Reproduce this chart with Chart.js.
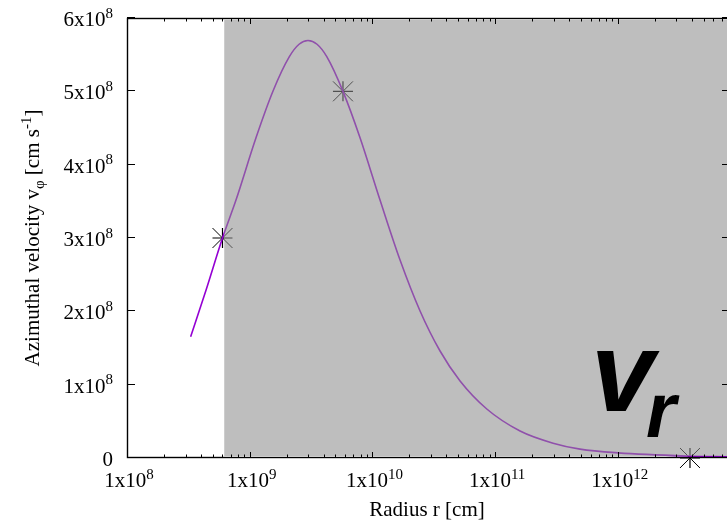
<!DOCTYPE html>
<html>
<head>
<meta charset="utf-8">
<script src="https://cdn.jsdelivr.net/npm/chart.js@4/dist/chart.umd.min.js"></script>
<style>
  html, body { margin: 0; padding: 0; background: #fff; overflow: hidden; }
  #wrap { width: 731px; height: 525px; }
</style>
</head>
<body>
<div id="wrap"><canvas id="c" width="731" height="525"></canvas></div>
<script>
// Azimuthal velocity profile v_phi(r), cm and cm/s
const radius = [3.30e8, 4.41e8, 6.0e8, 7.73e8, 1.125e9, 1.549e9, 2.104e9, 2.524e9, 2.985e9,
                3.537e9, 4.246e9, 5.754e9, 7.925e9, 1.153e10, 1.679e10, 2.444e10, 3.557e10,
                5.177e10, 8.55e10, 1.596e11, 2.965e11, 4.92e11, 1.005e12, 3.88e12, 8.2e12];
const vphi = [1.654e8, 2.291e8, 3.00e8, 3.518e8, 4.367e8, 5.005e8, 5.473e8, 5.642e8, 5.693e8,
              5.642e8, 5.473e8, 5.00e8, 4.367e8, 3.518e8, 2.700e8, 2.005e8, 1.459e8,
              1.050e8, 0.668e8, 0.368e8, 0.202e8, 0.121e8, 0.070e8, 0.026e8, 0.015e8];

// Marked radii
const markerRadius = [6.0e8, 5.754e9, 3.87e12];
const markerVphi = [3.0e8, 5.0e8, 0];

// Shaded zone: from this radius out past the right edge
const shadeStart = 6.2e8;

// Axis ranges and tick labels
const xMin = 1e8, xMax = 8.2e12;
const yMin = 0, yMax = 6e8;
const xTickValues = [1e8, 1e9, 1e10, 1e11, 1e12];
const xTickLabels = ['1x10^{8}', '1x10^{9}', '1x10^{10}', '1x10^{11}', '1x10^{12}'];
const yTickValues = [0, 1e8, 2e8, 3e8, 4e8, 5e8, 6e8];
const yTickLabels = ['0', '1x10^{8}', '2x10^{8}', '3x10^{8}', '4x10^{8}', '5x10^{8}', '6x10^{8}'];
const xTitle = 'Radius r [cm]';
const yTitle = 'Azimuthal velocity v_{φ} [cm s^{-1}]';
const zoneMain = 'v';
const zoneSub = 'r';

const SERIF = '"Liberation Serif", "Times New Roman", serif';
const FS = 21;

// Text with ^{...} superscripts and _{...} subscripts
function parseRich(s) {
  const out = [];
  const re = /([\^_])\{([^}]*)\}/g;
  let last = 0, m;
  while ((m = re.exec(s))) {
    if (m.index > last) out.push({ t: s.slice(last, m.index), k: 0 });
    out.push({ t: m[2], k: m[1] === '^' ? 1 : -1 });
    last = re.lastIndex;
  }
  if (last < s.length) out.push({ t: s.slice(last), k: 0 });
  return out;
}
function segFont(k, size) {
  return (k ? Math.round(size * 0.7) : size) + 'px ' + SERIF;
}
function drawRich(ctx, s, x, y, align, size) {
  const segs = parseRich(s);
  let w = 0;
  segs.forEach(g => { ctx.font = segFont(g.k, size); g.w = ctx.measureText(g.t).width; w += g.w; });
  let cx = align === 'center' ? x - w / 2 : align === 'right' ? x - w : x;
  ctx.textAlign = 'left';
  ctx.textBaseline = 'alphabetic';
  segs.forEach(g => {
    ctx.font = segFont(g.k, size);
    const dy = g.k === 1 ? -size * 0.4 : g.k === -1 ? size * 0.25 : 0;
    ctx.fillText(g.t, cx, y + dy);
    cx += g.w;
  });
}

const framePlugin = {
  id: 'frame',
  afterDatasetsDraw(chart) {
    const { ctx, chartArea: a, scales: { x } } = chart;
    const x0 = x.getPixelForValue(shadeStart);
    ctx.save();
    ctx.fillStyle = 'rgba(140,140,140,0.57)';
    ctx.fillRect(x0, a.top + 2, a.right - x0, a.bottom - a.top - 4);
    ctx.restore();
  },
  afterDraw(chart) {
    const { ctx, chartArea: a, scales: { x, y } } = chart;
    ctx.save();
    ctx.strokeStyle = '#000';
    ctx.lineWidth = 1.4;
    ctx.strokeRect(a.left + 0.5, a.top + 0.5, a.right - a.left - 1, a.bottom - a.top - 1);

    ctx.lineWidth = 1;
    ctx.beginPath();
    // x ticks, inward on bottom and top
    for (let d = 8; d <= 12; d++) {
      for (let m = 1; m <= 9; m++) {
        const v = m * Math.pow(10, d);
        if (v > xMax) break;
        const px = Math.round(x.getPixelForValue(v)) + 0.5;
        const len = m === 1 ? 6 : 3.5;
        ctx.moveTo(px, a.bottom); ctx.lineTo(px, a.bottom - len);
        ctx.moveTo(px, a.top); ctx.lineTo(px, a.top + len);
      }
    }
    // y ticks, inward on left and right
    yTickValues.forEach(v => {
      const py = Math.round(y.getPixelForValue(v)) - 0.5;
      ctx.moveTo(a.left, py); ctx.lineTo(a.left + 8, py);
      ctx.moveTo(a.right, py); ctx.lineTo(a.right - 8, py);
    });
    ctx.stroke();

    ctx.fillStyle = '#000';
    yTickValues.forEach((v, i) => {
      drawRich(ctx, yTickLabels[i], 113, y.getPixelForValue(v) + 8, 'right', FS);
    });
    xTickValues.forEach((v, i) => {
      drawRich(ctx, xTickLabels[i], x.getPixelForValue(v) + 2, 487, 'center', FS);
    });
    drawRich(ctx, xTitle, 427, 516, 'center', FS);

    ctx.save();
    ctx.translate(39, (a.top + a.bottom) / 2);
    ctx.rotate(-Math.PI / 2);
    drawRich(ctx, yTitle, 0, 0, 'center', FS);
    ctx.restore();

    // Zone label
    ctx.font = 'italic bold 114px "Liberation Sans", Arial, sans-serif';
    ctx.textAlign = 'left';
    ctx.textBaseline = 'alphabetic';
    let mt = ctx.measureText(zoneMain);
    ctx.fillText(zoneMain, 597 + mt.actualBoundingBoxLeft, 411);
    ctx.font = 'italic bold 77px "Liberation Sans", Arial, sans-serif';
    mt = ctx.measureText(zoneSub);
    ctx.fillText(zoneSub, 647 + mt.actualBoundingBoxLeft, 437);
    ctx.restore();
  }
};

const markerPoints = markerRadius.map((r, i) => ({ x: r, y: markerVphi[i] }));

new Chart(document.getElementById('c'), {
  type: 'scatter',
  data: {
    datasets: [
      {
        data: radius.map((r, i) => ({ x: r, y: vphi[i] })),
        showLine: true,
        borderColor: '#9400d3',
        borderWidth: 1.6,
        pointRadius: 0,
        cubicInterpolationMode: 'monotone',
        fill: false
      },
      // asterisk markers: an upright cross plus a rotated cross
      {
        data: markerPoints,
        showLine: false,
        pointStyle: 'cross',
        pointRadius: 10,
        borderColor: '#000',
        borderWidth: 1.2,
        clip: false
      },
      {
        data: markerPoints,
        showLine: false,
        pointStyle: 'crossRot',
        pointRadius: 14.1,
        borderColor: '#000',
        borderWidth: 1,
        clip: false
      }
    ]
  },
  options: {
    responsive: false,
    devicePixelRatio: 1,
    animation: false,
    layout: { autoPadding: false, padding: { left: 127, top: 18, right: 1, bottom: 67 } },
    scales: {
      x: { type: 'logarithmic', min: xMin, max: xMax, display: false },
      y: { type: 'linear', min: yMin, max: yMax, display: false }
    },
    plugins: { legend: { display: false }, tooltip: { enabled: false } }
  },
  plugins: [framePlugin]
});
</script>
</body>
</html>
